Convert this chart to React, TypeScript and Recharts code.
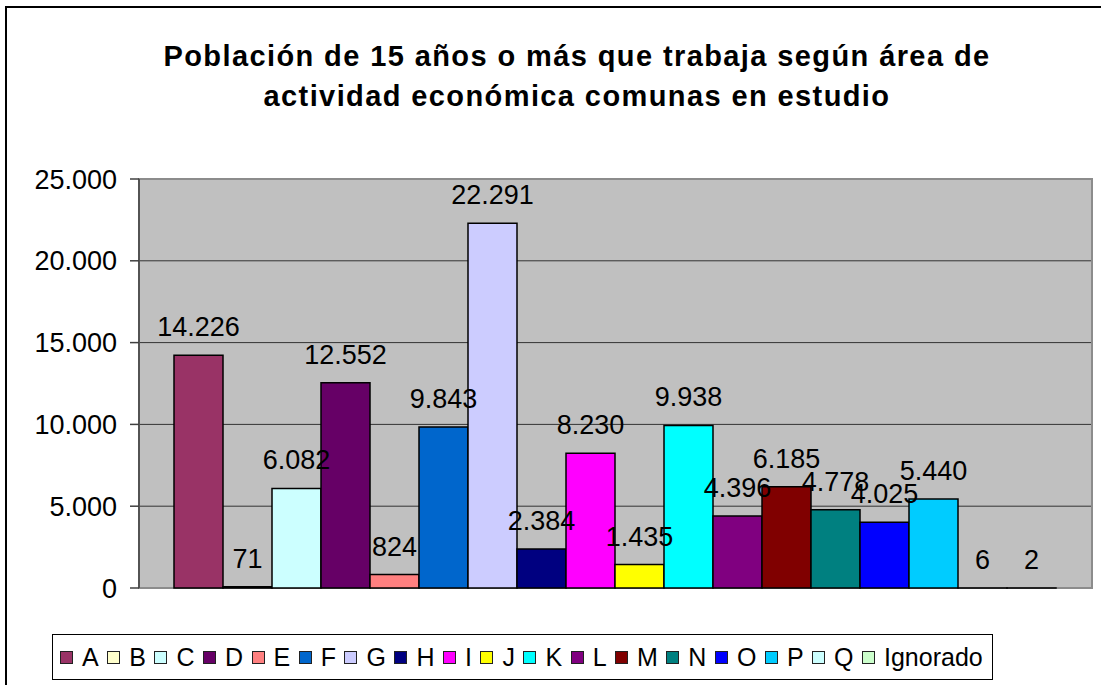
import React from 'react';
import { BarChart, Bar, XAxis, YAxis, CartesianGrid, LabelList, ReferenceArea } from 'recharts';

const seriesNames = ['A', 'B', 'C', 'D', 'E', 'F', 'G', 'H', 'I', 'J', 'K', 'L', 'M', 'N', 'O', 'P', 'Q', 'Ignorado'];
const seriesValues = [14226, 71, 6082, 12552, 824, 9843, 22291, 2384, 8230, 1435, 9938, 4396, 6185, 4778, 4025, 5440, 6, 2];
const seriesColors = [
  '#993366', '#FFFFCC', '#CCFFFF', '#660066', '#FF8080', '#0066CC', '#CCCCFF', '#000080', '#FF00FF',
  '#FFFF00', '#00FFFF', '#800080', '#800000', '#008080', '#0000FF', '#00CCFF', '#CCFFFF', '#CCFFCC',
];
const yTicks = [0, 5000, 10000, 15000, 20000, 25000];
const gridValues = [5000, 10000, 15000, 20000];

const titleLines = [
  'Población de 15 años o más que trabaja según área de',
  'actividad económica comunas en estudio',
];

const FONT = '"Liberation Sans", Arial, sans-serif';

// thousands with a dot, like the Spanish Excel original
const fmt = (v: any) => {
  const n = Math.round(Number(v));
  return n.toString().replace(/\B(?=(\d{3})+(?!\d))/g, '.');
};

// one row, one key per series
const row: Record<string, any> = { name: 'total' };
seriesNames.forEach((s, i) => {
  row[s] = seriesValues[i];
});
const chartData = [row];

export default function App() {
  return (
    <div
      style={{
        position: 'fixed',
        left: 0,
        top: 0,
        width: 1101,
        height: 685,
        background: '#fff',
        overflow: 'hidden',
        fontFamily: FONT,
      }}
    >
      {/* outer chart frame */}
      <div
        style={{
          position: 'absolute',
          left: 5,
          top: 6,
          width: 1200,
          height: 800,
          border: '2px solid #000',
        }}
      />

      <div
        style={{
          position: 'absolute',
          left: 0,
          top: 36,
          width: 1154,
          textAlign: 'center',
          fontSize: 29,
          fontWeight: 'bold',
          letterSpacing: 1.4,
          lineHeight: '40px',
          color: '#000',
        }}
      >
        {titleLines.map((t) => (
          <div key={t}>{t}</div>
        ))}
      </div>

      <div style={{ position: 'absolute', left: 0, top: 0 }}>
        <BarChart
          width={1101}
          height={685}
          data={chartData}
          margin={{ top: 179, right: 9, bottom: 97, left: 59 }}
          barCategoryGap={35}
          barGap={0}
        >
          <CartesianGrid
            vertical={false}
            horizontalValues={gridValues}
            stroke="#333"
            strokeWidth={1}
            fill="#C0C0C0"
            fillOpacity={1}
          />
          <XAxis dataKey="name" hide />
          <YAxis
            width={80}
            domain={[0, 25000]}
            ticks={yTicks}
            interval={0}
            tickFormatter={fmt}
            tickSize={9}
            tickMargin={13}
            axisLine={{ stroke: '#404040', strokeWidth: 1.5 }}
            tickLine={{ stroke: '#404040', strokeWidth: 1.5 }}
            tick={{ fill: '#000', fontSize: 27, fontFamily: FONT }}
          />
          <ReferenceArea y1={0} y2={25000} fill="none" stroke="#8c8c8c" strokeWidth={2} ifOverflow="visible" />
          {seriesNames.map((s, i) => (
            <Bar key={s} dataKey={s} fill={seriesColors[i]} stroke="#000" strokeWidth={1.5} isAnimationActive={false}>
              <LabelList
                dataKey={s}
                position="top"
                offset={19}
                formatter={fmt}
                fill="#000"
                fontSize={27}
                fontFamily={FONT}
              />
            </Bar>
          ))}
        </BarChart>
      </div>

      {/* legend box */}
      <div
        style={{
          position: 'absolute',
          left: 52,
          top: 634,
          width: 941,
          height: 46,
          boxSizing: 'border-box',
          border: '1.5px solid #000',
          background: '#fff',
          display: 'flex',
          alignItems: 'center',
          paddingLeft: 7,
          fontSize: 25,
          color: '#000',
          whiteSpace: 'nowrap',
        }}
      >
        {seriesNames.map((s, i) => (
          <div key={s} style={{ display: 'flex', alignItems: 'center', marginRight: 8.5 }}>
            <span
              style={{
                display: 'inline-block',
                width: 13,
                height: 13,
                boxSizing: 'border-box',
                border: '1.5px solid #222',
                background: seriesColors[i],
                marginRight: 9,
              }}
            />
            <span>{s}</span>
          </div>
        ))}
      </div>
    </div>
  );
}
